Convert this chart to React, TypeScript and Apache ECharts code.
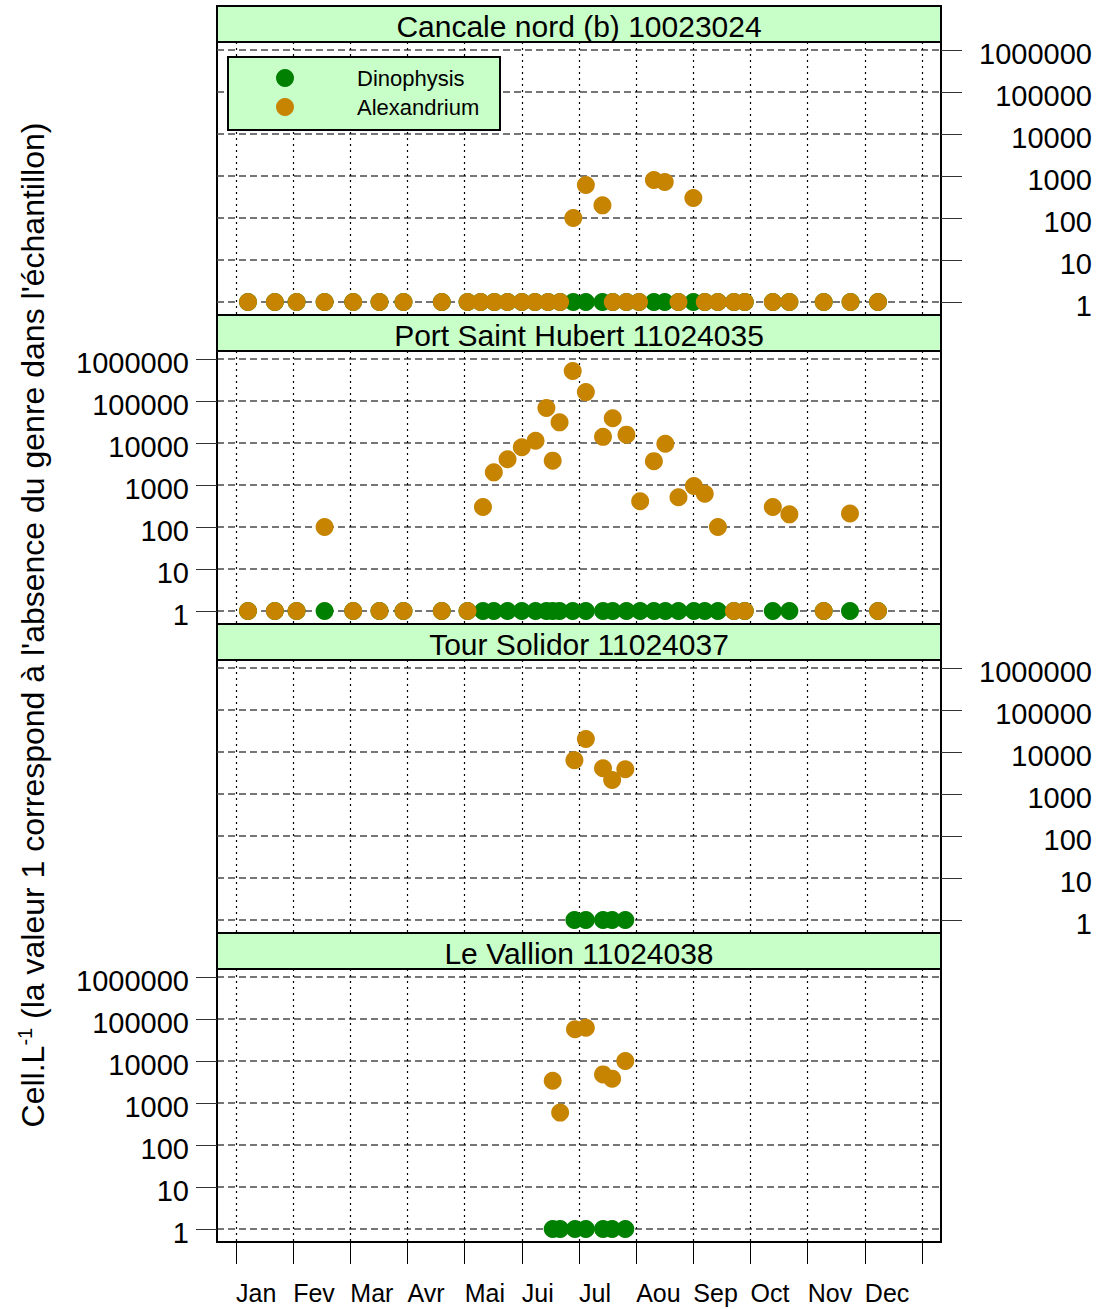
import React, { useEffect, useRef } from "react";
import * as echarts from "echarts";

// ---------- data ----------
const MONTHS = ["Jan", "Fev", "Mar", "Avr", "Mai", "Jui", "Jul", "Aou", "Sep", "Oct", "Nov", "Dec"];
const MONTH_TICKS = [0, 1, 2, 3, 4, 5, 6, 7, 8, 9, 10, 11, 12];
const Y_TICKS = [1, 10, 100, 1000, 10000, 100000, 1000000];

const TITLES = [
  "Cancale nord (b) 10023024",
  "Port Saint Hubert 11024035",
  "Tour Solidor 11024037",
  "Le Vallion 11024038",
];

// sample dates, as month position (0 = 1 Jan, 12 = 31 Dec)
const P1_DATES = [0.21, 0.68, 1.06, 1.55, 2.05, 2.51, 2.93, 3.6, 4.05, 4.28, 4.52, 4.75, 5.0, 5.23, 5.46, 5.67, 5.9, 6.12, 6.41, 6.59, 6.83, 7.05, 7.31, 7.5, 7.74, 8.0, 8.2, 8.43, 8.71, 8.9, 9.39, 9.68, 10.28, 10.75, 11.23];
const P1_DINO = [1, 1, 1, 1, 1, 1, 1, 1, 1, 1, 1, 1, 1, 1, 1, 1, 1, 1, 1, 1, 1, 1, 1, 1, 1, 1, 1, 1, 1, 1, 1, 1, 1, 1, 1];
const P1_ALEX = [1, 1, 1, 1, 1, 1, 1, 1, 1, 1, 1, 1, 1, 1, 1, 1, 100, 610, 200, 1, 1, 1, 800, 720, 1, 300, 1, 1, 1, 1, 1, 1, 1, 1, 1];

const P2_DATES = [0.21, 0.68, 1.06, 1.55, 2.05, 2.51, 2.93, 3.6, 4.05, 4.32, 4.51, 4.75, 5.0, 5.24, 5.43, 5.54, 5.66, 5.89, 6.12, 6.42, 6.59, 6.83, 7.07, 7.31, 7.51, 7.74, 8.01, 8.2, 8.43, 8.71, 8.9, 9.39, 9.68, 10.28, 10.74, 11.23];
const P2_DINO = [1, 1, 1, 1, 1, 1, 1, 1, 1, 1, 1, 1, 1, 1, 1, 1, 1, 1, 1, 1, 1, 1, 1, 1, 1, 1, 1, 1, 1, 1, 1, 1, 1, 1, 1, 1];
const P2_ALEX = [1, 1, 1, 100, 1, 1, 1, 1, 1, 300, 2000, 4100, 7900, 11300, 68000, 3800, 31000, 516000, 163000, 14000, 39000, 15800, 410, 3700, 9600, 510, 950, 620, 100, 1, 1, 300, 200, 1, 210, 1];

const P3_DATES = [5.92, 6.12, 6.42, 6.58, 6.81];
const P3_DINO = [1, 1, 1, 1, 1];
const P3_ALEX = [6400, 20400, 4100, 2150, 3880];

const P4_DATES = [5.54, 5.67, 5.93, 6.12, 6.42, 6.58, 6.81];
const P4_DINO = [1, 1, 1, 1, 1, 1, 1];
const P4_ALEX = [3400, 590, 57000, 62000, 4800, 3800, 10000];

const PANELS = [
  { dates: P1_DATES, dino: P1_DINO, alex: P1_ALEX },
  { dates: P2_DATES, dino: P2_DINO, alex: P2_ALEX },
  { dates: P3_DATES, dino: P3_DINO, alex: P3_ALEX },
  { dates: P4_DATES, dino: P4_DINO, alex: P4_ALEX },
];

const SERIES_NAMES = ["Dinophysis", "Alexandrium"];
const COLORS = ["#008000", "#C68400"];

// ---------- layout ----------
const W = 1112;
const H = 1309;
const FONT = "'Liberation Sans', Arial, Helvetica, sans-serif";
const PLOT_LEFT = 217;
const PLOT_W = 724;
const STRIP_TOP = 6;
const STRIP_H = 36;
const PLOT_H = 273;
const STEP = 309;
const STRIP_FILL = "#C8FFC8";

export default function App() {
  const ref = useRef<HTMLDivElement>(null);

  useEffect(() => {
    if (!ref.current) return;
    const chart = echarts.init(ref.current, null, { renderer: "svg", width: W, height: H });

    const grids: any[] = [];
    const xAxes: any[] = [];
    const yAxes: any[] = [];
    const series: any[] = [];
    const graphics: any[] = [];

    PANELS.forEach((p, i) => {
      const top = STRIP_TOP + i * STEP + STRIP_H;
      const isBottom = i === PANELS.length - 1;
      const rightSide = i % 2 === 0;
      grids.push({
        left: PLOT_LEFT,
        top,
        width: PLOT_W,
        height: PLOT_H,
        show: true,
        backgroundColor: "#ffffff",
        borderColor: "#000",
        borderWidth: 2,
        containLabel: false,
        outerBoundsMode: "none",
        z: 0,
      });
      xAxes.push({
        type: "value",
        gridIndex: i,
        min: -0.332,
        max: 12.332,
        axisLine: { show: false },
        axisTick: {
          show: isBottom,
          customValues: MONTH_TICKS,
          length: 22,
          lineStyle: { color: "#000", width: 1 },
        },
        axisLabel: {
          show: isBottom,
          customValues: MONTH_TICKS.slice(0, 12),
          formatter: (v: number) => MONTHS[Math.round(v)] ?? "",
          align: "left",
          verticalAlign: "middle",
          margin: 51,
          fontSize: 25,
          color: "#000",
          fontFamily: FONT,
        },
        splitLine: {
          show: true,
          lineStyle: { color: "#000", type: [2, 4], width: 1.2 },
        },
      });
      yAxes.push({
        type: "log",
        logBase: 10,
        gridIndex: i,
        position: rightSide ? "right" : "left",
        min: Math.pow(10, -13 / 42),
        max: Math.pow(10, 6 + 8 / 42),
        axisLine: { show: true, onZero: false, lineStyle: { color: "#000", width: 2 } },
        axisTick: {
          show: true,
          inside: false,
          customValues: Y_TICKS,
          length: 21,
          lineStyle: { color: "#333", width: 1 },
        },
        minorTick: { show: false },
        minorSplitLine: { show: false },
        axisLabel: {
          show: true,
          customValues: Y_TICKS,
          formatter: (v: number) => "{v|" + String(Math.round(v)) + "}",
          align: "right",
          verticalAlign: "middle",
          margin: rightSide ? 151 : 28,
          rich: {
            v: {
              fontSize: 29,
              fontFamily: FONT,
              color: "#000",
              padding: [8, 0, 0, 0],
            },
          },
        },
        splitLine: {
          show: true,
          lineStyle: { color: "#4a4a4a", type: [7, 4], width: 1.5 },
        },
      });
      SERIES_NAMES.forEach((name, s) => {
        const vals = s === 0 ? p.dino : p.alex;
        series.push({
          type: "scatter",
          name,
          xAxisIndex: i,
          yAxisIndex: i,
          symbol: "circle",
          symbolSize: 18,
          itemStyle: { color: COLORS[s], opacity: 1 },
          data: p.dates.map((d, k) => [d, vals[k]]),
          z: 3 + s,
        });
      });
      // strip
      const stripY = STRIP_TOP + i * STEP;
      graphics.push({
        type: "rect",
        shape: { x: PLOT_LEFT, y: stripY, width: PLOT_W, height: STRIP_H },
        style: { fill: STRIP_FILL, stroke: "#000", lineWidth: 2 },
        z: 10,
      });
      graphics.push({
        type: "text",
        x: PLOT_LEFT + PLOT_W / 2,
        y: stripY + STRIP_H / 2 + 2,
        style: {
          text: TITLES[i],
          fontSize: 30,
          fontFamily: FONT,
          fill: "#000",
          align: "center",
          verticalAlign: "middle",
        },
        z: 11,
      });
    });

    // legend box (panel 1)
    graphics.push({
      type: "rect",
      shape: { x: 228, y: 57, width: 272, height: 73 },
      style: { fill: STRIP_FILL, stroke: "#000", lineWidth: 2 },
      z: 10,
    });
    SERIES_NAMES.forEach((name, s) => {
      const cy = 78 + s * 29;
      graphics.push({
        type: "circle",
        shape: { cx: 285, cy, r: 9 },
        style: { fill: COLORS[s] },
        z: 11,
      });
      graphics.push({
        type: "text",
        x: 357,
        y: cy,
        style: {
          text: name,
          fontSize: 22,
          fontFamily: FONT,
          fill: "#000",
          align: "left",
          verticalAlign: "middle",
        },
        z: 11,
      });
    });

    // y-axis title, rotated
    graphics.push({
      type: "text",
      x: 33,
      y: 625,
      rotation: Math.PI / 2,
      style: {
        text: "{a|Cell.L}{b|-1}{a| (la valeur 1 correspond à l'absence du genre dans l'échantillon)}",
        align: "center",
        verticalAlign: "middle",
        fill: "#000",
        rich: {
          a: { fontSize: 32, fontFamily: FONT, fill: "#000", lineHeight: 36 },
          b: { fontSize: 20, fontFamily: FONT, fill: "#000", verticalAlign: "top", lineHeight: 36 },
        },
      },
      z: 11,
    });

    chart.setOption({
      animation: false,
      backgroundColor: "#ffffff",
      textStyle: { fontFamily: FONT },
      grid: grids,
      xAxis: xAxes,
      yAxis: yAxes,
      series,
      graphic: graphics,
    });

    return () => chart.dispose();
  }, []);

  return (
    <div
      ref={ref}
      style={{ position: "absolute", left: 0, top: 0, width: W, height: H, background: "#fff" }}
    />
  );
}
